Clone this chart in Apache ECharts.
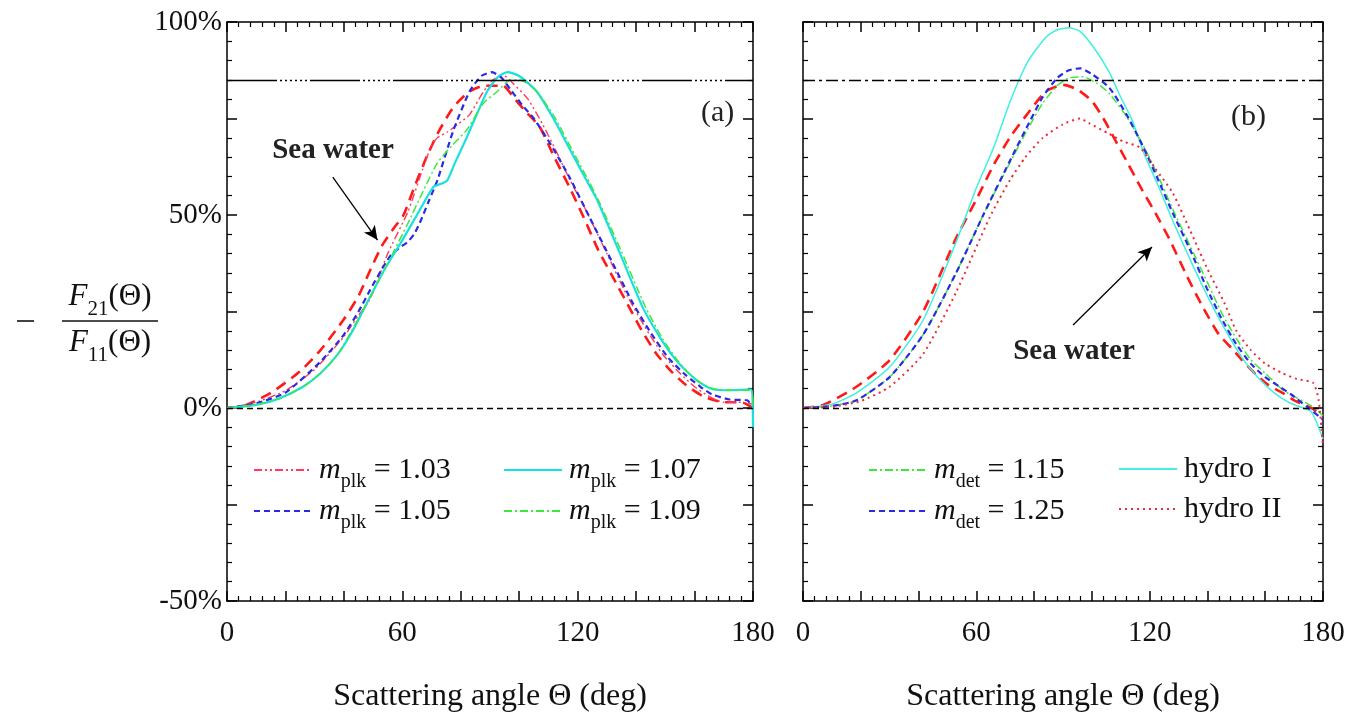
<!DOCTYPE html>
<html>
<head>
<meta charset="utf-8">
<script src="https://cdn.jsdelivr.net/npm/echarts@6/dist/echarts.min.js"></script>
<style>
  html, body { margin: 0; padding: 0; background: #fff; }
  #chart { width: 1356px; height: 720px; }
</style>
</head>
<body>
<div id="chart"></div>
<script>
// angle (deg), -F21/F11 (%)
// panel (a)
const seaWaterA = [[0,0],[5,0.3],[15,3.9],[25,9.5],[32,15],[40,23],[45,29],[49,35.7],[53,42],[57,46.5],[60.4,50],[64,57],[68,64.5],[72,71],[77.5,78],[83,82],[88,83.5],[94.5,83.5],[98,80.5],[102,77],[107,72.8],[112,65],[117,57.5],[122,49.5],[127,41],[132,34],[137,27],[142,20],[147,14],[152,9.5],[157,6],[163,3],[170,1.5],[176,1.5],[180,0]]
const plk103 = [[0,0],[10,1.5],[20,4.5],[30,10],[40,18.5],[45,24],[48,27],[50,30],[55,40],[62,51],[67,62],[70,68],[72,70],[75.4,71.5],[79,73.5],[83,76],[87.8,82],[91,85],[95,86],[98,84],[103,80],[108,73.5],[113,66],[117.4,59],[123,51],[130,40],[137,29],[143,21],[149,14],[155,9],[160,5.5],[165,3],[170,1.5],[176,1.5],[180,1]]
const plk105 = [[0,0],[10,1.2],[20,4],[32,12],[40,19],[45,25],[49,30.6],[53,36],[56,39.5],[59.4,41.7],[61.8,43],[64,45],[66,48],[69,53.5],[72,59],[77.5,72],[83,82],[87,86],[90.7,87],[94,85.5],[97,82.5],[101,78.5],[105,75],[111,68],[117.4,59.5],[124,49.5],[132,37.5],[139,27],[145,19.5],[151,13],[157,8.5],[162,5.5],[166,3.5],[172,2.2],[178,2],[180,0]]
const plk107 = [[0,0],[10,0.8],[18,2.5],[26,5.5],[32,9],[38,14],[43,20],[49,28.8],[54,36],[59.4,42.7],[65,50],[70.6,57.3],[73,58],[75.4,59],[78,63.5],[82,70],[86,77],[89,82],[93,86],[96,87],[100,86],[106,82],[111.7,75],[117,67.5],[123,59],[126.6,54],[134.5,40],[142.3,26],[148,18.5],[153,13],[158,9],[162,6.5],[166.5,4.8],[172,4.6],[179.4,4.8],[180,-5]]
const plk109 = [[0,0],[10,0.8],[18,2.5],[26,5.5],[32,9],[38,14],[47,26],[55,37.5],[62,48],[67,56],[72,63.5],[77,68],[82,72],[87.8,79],[92.5,82],[97,85],[100,85],[104,83.5],[108,80],[112,75.5],[118,67],[124,58.5],[127,54],[135,40.5],[143,26.5],[149,18],[154,12.5],[158,9],[162,6.5],[166.5,5],[172,4.6],[179.4,4.6],[180,0]]

// panel (b)
const seaWaterB = [[0,0],[7,0.8],[18.5,5.5],[30,12.4],[41.6,25],[53,44],[60,54],[66,63],[72,70.5],[77.5,76],[84,82],[90,83.7],[95,82.5],[100,79.5],[104,75],[108,69.5],[112,64],[117,57],[122,50.5],[127,43.5],[133,34],[138.5,26],[144,19],[149,15],[152,12.4],[157,8.5],[161,6],[166,3.9],[170,2],[176,0],[180,-2]]
const hydroI = [[0,0],[10,1],[18.5,3.9],[30,10.6],[41.6,22.8],[53,43],[60,57],[66,67.5],[72,80],[78,90],[84,96],[88,98],[92,98.5],[96,97.5],[101,93],[106,87],[110,80.5],[114,74.5],[118,66],[123,57.5],[128,48.5],[134,38.5],[140,29],[146,20.5],[152,13],[158,7.5],[163,4],[168,1.5],[172,0.3],[176,-1],[180,-8]]
const det115 = [[0,0],[10,0.5],[18.5,2],[30,8],[41.6,19],[53,35],[62.4,50],[71.6,63.5],[78,72.5],[83,79],[88,83.5],[92,85.5],[97,85.8],[102,84],[106,81.5],[112,75.5],[117.8,68],[123,60],[128,51.5],[134,42],[140,32.5],[145,24.5],[150,18],[155,12.5],[160,9],[166,4.7],[170,3],[176,0.5],[180,-2]]
const det125 = [[0,0],[10,0.5],[18.5,2],[30,8],[41.6,19],[53,35],[62.4,50],[71.6,64],[78,73.5],[83,80.6],[88,85.5],[92,87.5],[96,88],[100,86.5],[106,83],[112,76],[117.8,67.6],[123,59],[128,50.5],[134,41],[139.8,31],[145,23],[150,16.5],[155,11.5],[160,8],[165,5.5],[169,3.5],[174.5,0.3],[180,-3]]
const hydroII = [[0,0],[10,0.3],[20,1.8],[30,5.5],[41.6,14],[53,30],[64.7,49.5],[71.6,59],[77,65],[83,70],[90,73.5],[96,75],[99,73.8],[106,71],[111,69],[116.6,67.5],[122,62],[128,55.7],[134,46],[140,36],[146,27],[150,20],[155,15],[160,11.5],[166,9],[171,7.5],[176.6,6.5],[178.5,2],[180,-10]]

const refLevel = 85
const xTickLabels = [0, 60, 120, 180]
const yTickLabels = [-50, 0, 50, 100]

const FONT = '"Liberation Serif", "DejaVu Serif", serif'

const chart = echarts.init(document.getElementById('chart'))

function xAx(grid, pos, labels) {
  return {
    type: 'value', gridIndex: grid, position: pos, min: 0, max: 180, interval: 20,
    axisLine: { show: true, onZero: false, lineStyle: { color: '#000', width: 1.5 } },
    axisTick: { show: true, inside: true, length: 10, lineStyle: { color: '#000', width: 1.5 } },
    minorTick: { show: true, splitNumber: 5, length: 5, lineStyle: { color: '#000', width: 1.2 } },
    splitLine: { show: false },
    axisLabel: {
      show: labels, margin: 18, fontFamily: FONT, fontSize: 29, color: '#111',
      formatter: v => xTickLabels.includes(v) ? String(v) : ''
    },
    name: labels ? 'Scattering angle Θ (deg)' : '',
    nameLocation: 'middle', nameGap: 80,
    nameTextStyle: { fontFamily: FONT, fontSize: 32, color: '#111' }
  }
}

function yAx(grid, pos, labels) {
  return {
    type: 'value', gridIndex: grid, position: pos, min: -50, max: 100, interval: 25,
    axisLine: { show: true, onZero: false, lineStyle: { color: '#000', width: 1.5 } },
    axisTick: { show: true, inside: true, length: 10, lineStyle: { color: '#000', width: 1.5 } },
    minorTick: { show: true, splitNumber: 5, length: 5, lineStyle: { color: '#000', width: 1.2 } },
    splitLine: { show: false },
    axisLabel: {
      show: labels, margin: 5, fontFamily: FONT, fontSize: 29, color: '#111',
      formatter: v => yTickLabels.includes(v) ? v + '%' : ''
    }
  }
}

function curve(name, data, ax, color, width, type) {
  return {
    name, type: 'line', data, xAxisIndex: ax, yAxisIndex: ax,
    symbol: 'none', showSymbol: false, smooth: 0.2, silent: true,
    lineStyle: { color, width, type }, itemStyle: { color }
  }
}

function refLines(ax, refType) {
  return {
    type: 'line', data: [], xAxisIndex: ax, yAxisIndex: ax, silent: true,
    markLine: {
      silent: true, symbol: 'none', animation: false, label: { show: false },
      data: [
        { yAxis: refLevel, lineStyle: { color: '#000', width: 1.3, type: refType } },
        { yAxis: 0, lineStyle: { color: '#000', width: 1.3, type: [6, 4] } }
      ]
    }
  }
}

function arrow(ax, from, to) {
  return {
    type: 'line', data: [], xAxisIndex: ax, yAxisIndex: ax, silent: true,
    markLine: {
      silent: true, symbol: ['none', 'arrow'], symbolSize: [10, 14], animation: false,
      label: { show: false },
      lineStyle: { color: '#000', width: 1.3, type: 'solid' },
      data: [[{ coord: from }, { coord: to }]]
    }
  }
}

const names = {
  plk103: ['plk', '1.03'], plk105: ['plk', '1.05'], plk107: ['plk', '1.07'], plk109: ['plk', '1.09'],
  det115: ['det', '1.15'], det125: ['det', '1.25'], hydroI: 'hydro I', hydroII: 'hydro II'
}

const rich = {
  m: { fontFamily: FONT, fontStyle: 'italic', fontSize: 30, color: '#111', lineHeight: 30, verticalAlign: 'middle' },
  s: { fontFamily: FONT, fontSize: 20, color: '#111', lineHeight: 30, verticalAlign: 'bottom', padding: [0, 0, -7, 0] },
  n: { fontFamily: FONT, fontSize: 30, color: '#111', lineHeight: 30, verticalAlign: 'middle' }
}

function legend(data, left, top, gap) {
  return {
    data, left, top, orient: 'vertical', itemWidth: 58, itemHeight: 14, itemGap: gap,
    selectedMode: false,
    itemStyle: { opacity: 0 },
    textStyle: { rich, padding: [0, 0, 0, 2] },
    formatter: n => {
      const t = names[n]
      return Array.isArray(t) ? `{m|m}{s|${t[0]}}{n| = ${t[1]}}` : `{n|${t}}`
    }
  }
}

const fracRich = {
  f: { fontFamily: FONT, fontStyle: 'italic', fontSize: 31, fill: '#111', verticalAlign: 'middle' },
  s: { fontFamily: FONT, fontSize: 21, fill: '#111', verticalAlign: 'bottom', padding: [0, 0, -7, 0] },
  n: { fontFamily: FONT, fontSize: 31, fill: '#111', verticalAlign: 'middle' }
}

const option = {
  backgroundColor: '#fff',
  animation: false,
  grid: [
    { left: 227, top: 22, width: 526, height: 579 },
    { left: 803, top: 22, width: 520, height: 579 }
  ],
  xAxis: [xAx(0, 'bottom', true), xAx(0, 'top', false), xAx(1, 'bottom', true), xAx(1, 'top', false)],
  yAxis: [yAx(0, 'left', true), yAx(0, 'right', false), yAx(1, 'left', false), yAx(1, 'right', false)],
  legend: [
    legend(['plk103', 'plk105'], 248, 450, 4),
    legend(['plk107', 'plk109'], 498, 450, 4),
    legend(['det115', 'det125'], 863, 450, 4),
    legend(['hydroI', 'hydroII'], 1113, 449, 10)
  ],
  series: [
    refLines(0, [50, 3, 2, 3, 2, 3, 2, 3, 2, 3, 2, 3, 2, 3]),
    refLines(2, [12, 4, 3, 4]),
    curve('seaWaterA', seaWaterA, 0, '#ff1a1a', 2.6, [11, 7]),
    curve('plk103', plk103, 0, '#ff3a5a', 1.4, [8, 3, 2, 3, 2, 3]),
    curve('plk105', plk105, 0, '#2a2ae6', 2.2, [6, 4]),
    curve('plk107', plk107, 0, '#18e0e0', 2.2, 'solid'),
    curve('plk109', plk109, 0, '#3ee83e', 1.5, [8, 3, 2, 3]),
    curve('seaWaterB', seaWaterB, 2, '#ff1a1a', 2.6, [11, 7]),
    curve('hydroI', hydroI, 2, '#3ff0e0', 1.5, 'solid'),
    curve('det115', det115, 2, '#3ee83e', 1.5, [8, 3, 2, 3]),
    curve('det125', det125, 2, '#2a2ae6', 2.2, [6, 4]),
    curve('hydroII', hydroII, 2, '#ee2a3a', 2, [2, 4]),
    arrow(0, [36.2, 59.8], [51.5, 43.5]),
    arrow(2, [93.5, 21.5], [120.8, 41.7])
  ],
  graphic: [
    { type: 'text', x: 701, y: 113, style: { text: '(a)', fontFamily: FONT, fontSize: 30, fill: '#222', verticalAlign: 'middle' } },
    { type: 'text', x: 1231, y: 117, style: { text: '(b)', fontFamily: FONT, fontSize: 30, fill: '#222', verticalAlign: 'middle' } },
    { type: 'text', x: 333, y: 151, style: { text: 'Sea water', fontFamily: FONT, fontWeight: 'bold', fontSize: 29, fill: '#222', align: 'center', verticalAlign: 'middle' } },
    { type: 'text', x: 1074, y: 352, style: { text: 'Sea water', fontFamily: FONT, fontWeight: 'bold', fontSize: 29, fill: '#222', align: 'center', verticalAlign: 'middle' } },
    { type: 'line', shape: { x1: 17, y1: 321, x2: 34, y2: 321 }, style: { stroke: '#111', lineWidth: 1.6 } },
    { type: 'line', shape: { x1: 62, y1: 321, x2: 158, y2: 321 }, style: { stroke: '#111', lineWidth: 1.6 } },
    { type: 'text', x: 110, y: 297, style: { text: '{f|F}{s|21}{n|(Θ)}', align: 'center', verticalAlign: 'middle', rich: fracRich } },
    { type: 'text', x: 110, y: 343, style: { text: '{f|F}{s|11}{n|(Θ)}', align: 'center', verticalAlign: 'middle', rich: fracRich } }
  ]
}

chart.setOption(option)
</script>
</body>
</html>
